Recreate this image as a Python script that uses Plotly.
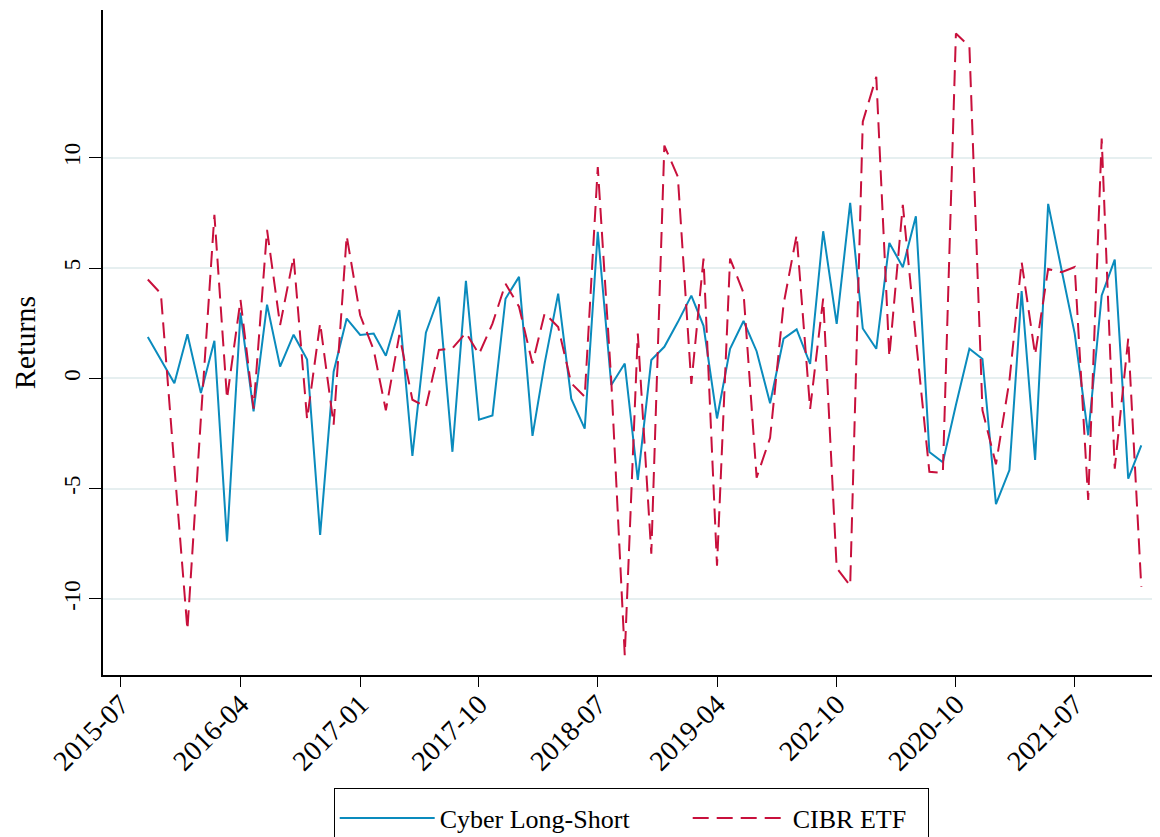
import pandas as pd
import plotly.graph_objects as go

# ---- data ----
months = pd.date_range("2015-09-01", periods=76, freq="MS")

cyber_long_short = [
    1.87, 0.83, -0.22, 2.00, -0.67, 1.70, -7.40, 2.98, -1.50, 3.34, 0.53, 1.98,
    0.85, -7.10, 0.30, 2.71, 1.97, 2.03, 1.02, 3.10, -3.52, 2.07, 3.70, -3.33,
    4.42, -1.87, -1.68, 3.61, 4.60, -2.61, 0.69, 3.84, -0.92, -2.28, 6.64, -0.30,
    0.67, -4.60, 0.83, 1.43, 2.55, 3.75, 2.38, -1.82, 1.34, 2.60, 1.23, -1.13,
    1.80, 2.22, 0.65, 6.67, 2.47, 7.96, 2.26, 1.34, 6.14, 5.04, 7.35, -3.34,
    -3.81, -1.21, 1.34, 0.88, -5.70, -4.16, 3.96, -3.70, 7.91, 4.90, 2.03, -2.58,
    3.76, 5.38, -4.55, -3.04,
]

cibr_etf = [
    4.48, 3.84, -4.00, -11.40, -1.80, 7.41, -0.92, 3.56, -1.37, 6.73, 2.42, 5.51,
    -1.85, 2.50, -2.10, 6.46, 2.86, 1.29, -1.45, 1.97, -0.97, -1.30, 1.29, 1.36,
    2.07, 1.10, 2.48, 4.29, 3.25, 0.67, 2.95, 2.33, -0.22, -0.83, 9.58, -0.10,
    -12.55, 2.03, -7.95, 10.55, 9.14, -0.25, 5.43, -8.50, 5.43, 3.87, -4.50, -2.70,
    3.37, 6.50, -1.39, 3.62, -8.60, -9.40, 11.64, 13.67, 0.98, 7.87, 1.80, -4.24,
    -4.28, 15.63, 15.06, -1.45, -3.90, -0.10, 5.28, 1.07, 4.96, 4.81, 5.05, -5.51,
    10.87, -4.10, 1.80, -9.46,
]

x_tick_dates = ["2015-07-01", "2016-04-01", "2017-01-01", "2017-10-01", "2018-07-01",
                "2019-04-01", "2020-01-01", "2020-10-01", "2021-07-01"]
x_tick_labels = ["2015-07", "2016-04", "2017-01", "2017-10", "2018-07",
                 "2019-04", "202-10", "2020-10", "2021-07"]
y_ticks = [-10, -5, 0, 5, 10]

FONT = "Liberation Serif"
BLUE = "#0a8bbd"
RED = "#c8103c"

fig = go.Figure()
fig.add_trace(go.Scatter(x=months, y=cyber_long_short, mode="lines",
                         name="Cyber Long-Short", legendwidth=243,
                         line=dict(color=BLUE, width=2)))
fig.add_trace(go.Scatter(x=months, y=cibr_etf, mode="lines",
                         name="CIBR ETF", legendwidth=130,
                         line=dict(color=RED, width=2, dash="16px,8px")))

fig.update_layout(
    width=1160, height=837,
    margin=dict(l=95, r=8, t=2, b=170),
    paper_bgcolor="white", plot_bgcolor="white",
    font=dict(family=FONT, size=20, color="black"),
    showlegend=True,
    legend=dict(orientation="h", x=0.5, xanchor="center",
                yref="container", y=0.068, yanchor="top",
                bordercolor="black", borderwidth=1.2, bgcolor="white",
                font=dict(family=FONT, size=26), itemwidth=95,
                tracegroupgap=0,
                title=dict(text="\u00a0", side="top", font=dict(size=4))),
)

fig.update_xaxes(
    type="date", automargin=False,
    range=["2015-05-21", "2022-01-13"],
    tickvals=x_tick_dates, ticktext=x_tick_labels,
    tickangle=-45,
    ticks="outside", ticklen=10, tickwidth=1.3, tickcolor="black",
    ticklabelstandoff=-10,
    showline=True, linecolor="black", linewidth=1.5,
    showgrid=False, zeroline=False,
    tickfont=dict(family=FONT, size=28),
)
fig.update_yaxes(
    automargin=False,
    range=[-13.45, 16.7],
    tickvals=y_ticks, ticktext=[str(v) for v in y_ticks],
    tickangle=-90,
    ticks="outside", ticklen=12, tickwidth=1.3, tickcolor="black",
    showline=True, linecolor="black", linewidth=1.5,
    showgrid=True, gridcolor="#e6eff0", gridwidth=2,
    zeroline=False,
    tickfont=dict(family=FONT, size=23),
    title=dict(text="Returns", font=dict(family=FONT, size=30), standoff=18),
)

fig.write_html("out.html")
